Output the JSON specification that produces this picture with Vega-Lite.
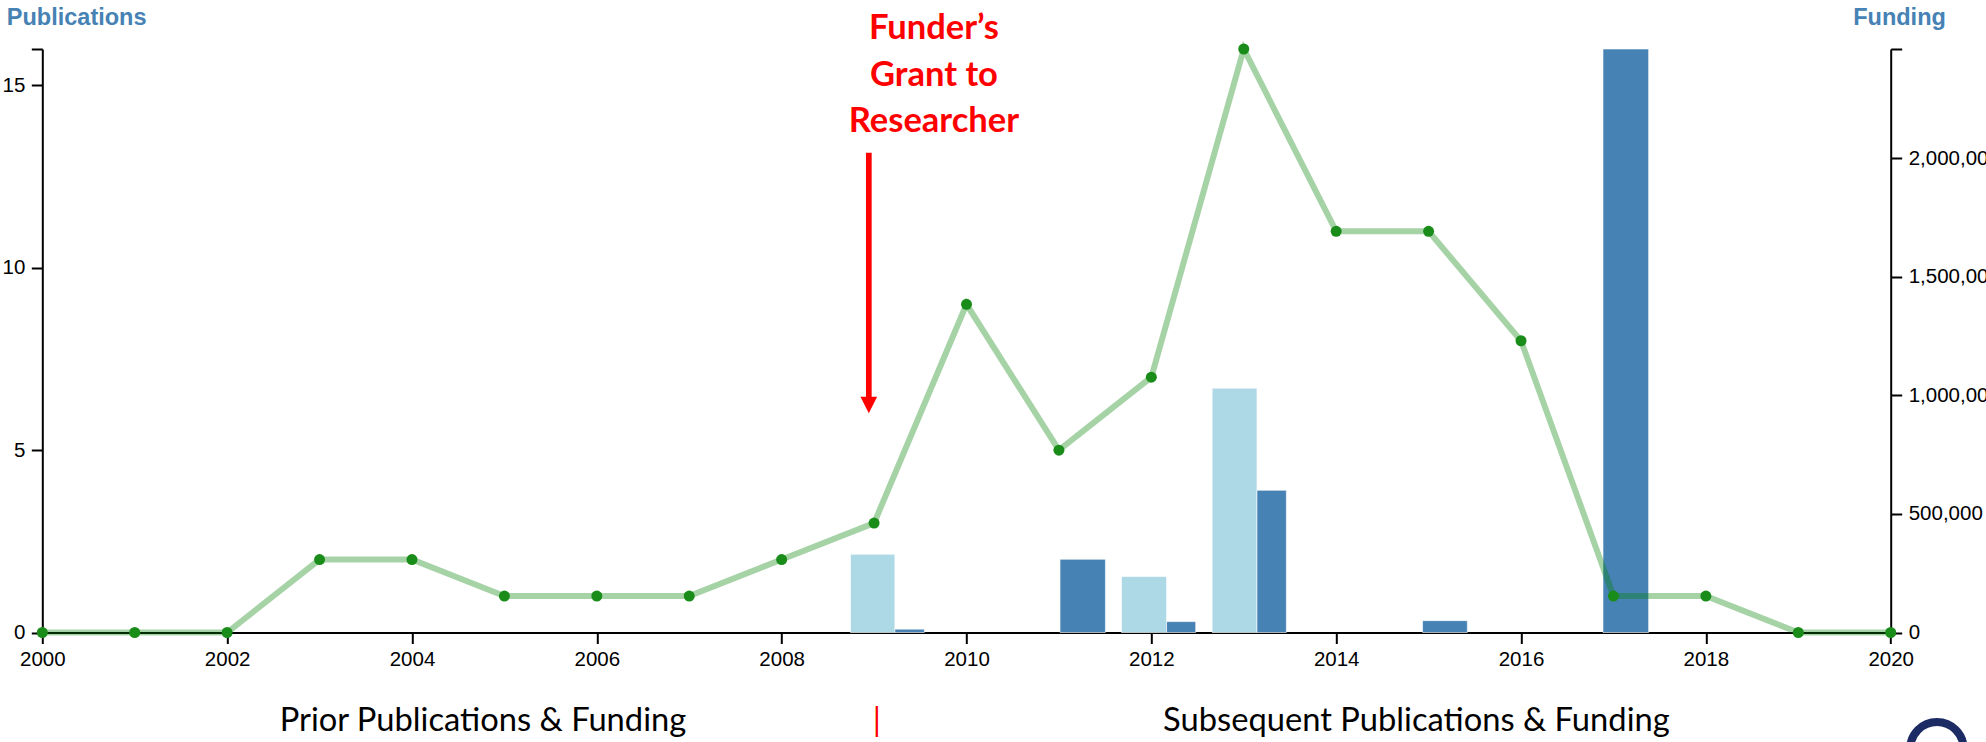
{
  "$schema": "https://vega.github.io/schema/vega-lite/v6.json",
  "width": 1848.4,
  "height": 583.5,
  "autosize": {"type": "none"},
  "padding": {"left": 42.3, "top": 49, "right": 95.3, "bottom": 109.5},
  "background": "white",
  "config": {
    "view": {"stroke": null},
    "axis": {
      "labelFont": "Liberation Sans", "labelFontSize": 20.5, "labelColor": "#000",
      "domainColor": "#000", "tickColor": "#000", "domainWidth": 2, "tickWidth": 2,
      "tickSize": 11, "grid": false, "labelPadding": 6.5,
      "titleFont": "Liberation Sans", "titleFontSize": 23.5, "titleFontWeight": "bold", "titleColor": "#4682b4"
    }
  },
  "datasets": {
    "pubs": [
      {"year": 2000, "publications": 0}, {"year": 2001, "publications": 0}, {"year": 2002, "publications": 0},
      {"year": 2003, "publications": 2}, {"year": 2004, "publications": 2}, {"year": 2005, "publications": 1},
      {"year": 2006, "publications": 1}, {"year": 2007, "publications": 1}, {"year": 2008, "publications": 2},
      {"year": 2009, "publications": 3}, {"year": 2010, "publications": 9}, {"year": 2011, "publications": 5},
      {"year": 2012, "publications": 7}, {"year": 2013, "publications": 16}, {"year": 2014, "publications": 11},
      {"year": 2015, "publications": 11}, {"year": 2016, "publications": 8}, {"year": 2017, "publications": 1},
      {"year": 2018, "publications": 1}, {"year": 2019, "publications": 0}, {"year": 2020, "publications": 0}
    ],
    "funding": [
      {"start": 2008.745, "end": 2009.225, "amount": 330000, "source": "Funder"},
      {"start": 2009.225, "end": 2009.544, "amount": 14000, "source": "Other"},
      {"start": 2011.012, "end": 2011.503, "amount": 309000, "source": "Other"},
      {"start": 2011.677, "end": 2012.165, "amount": 236000, "source": "Funder"},
      {"start": 2012.165, "end": 2012.480, "amount": 46000, "source": "Other"},
      {"start": 2012.658, "end": 2013.143, "amount": 1031000, "source": "Funder"},
      {"start": 2013.143, "end": 2013.461, "amount": 600000, "source": "Other"},
      {"start": 2014.935, "end": 2015.419, "amount": 50000, "source": "Other"},
      {"start": 2016.887, "end": 2017.381, "amount": 2462000, "source": "Other"}
    ],
    "grant": [{"year": 2009.648, "level": 16.27, "label": "Funder’s\nGrant to\nResearcher"}],
    "arrow": [{"year": 2008.943, "from": 13.156, "to": 6.45, "tip": 6.238}],
    "periods": [
      {"year": 2004.768, "level": -2.7, "label": "Prior Publications & Funding"},
      {"year": 2014.868, "level": -2.7, "label": "Subsequent Publications & Funding"}
    ],
    "divider": [{"year": 2009.031, "level": -2.7, "label": "|"}],
    "logo": [{"year": 2020.5, "level": -3.19}]
  },
  "layer": [
    {
      "data": {"name": "funding"},
      "mark": {"type": "bar", "stroke": "#ffffff", "strokeWidth": 0.6},
      "encoding": {
        "x": {"field": "start", "type": "quantitative",
              "scale": {"domain": [2000, 2020], "nice": false, "zero": false},
              "axis": {"values": [2000, 2002, 2004, 2006, 2008, 2010, 2012, 2014, 2016, 2018, 2020], "format": "d", "title": null, "labelFlush": false, "labelPadding": 6}},
        "x2": {"field": "end"},
        "y": {"field": "amount", "type": "quantitative",
              "scale": {"domain": [0, 2462000], "nice": false},
              "axis": {"orient": "right", "title": "Funding", "titleAngle": 0, "titleAlign": "left", "titleBaseline": "alphabetic", "titleX": -38, "titleY": -25,
                       "values": [0, 500000, 1000000, 1500000, 2000000, 2462000],
                       "labelExpr": "datum.value > 2400000 ? '' : format(datum.value, ',d')", "labelFlush": false}},
        "y2": {"datum": 0},
        "color": {"field": "source", "type": "nominal", "scale": {"domain": ["Funder", "Other"], "range": ["#add8e6", "#4682b4"]}, "legend": null}
      }
    },
    {
      "layer": [
        {
          "data": {"name": "pubs"},
          "mark": {"type": "line", "color": "#008000", "strokeWidth": 6, "strokeOpacity": 0.35},
          "encoding": {
            "x": {"field": "year", "type": "quantitative", "scale": {"domain": [2000, 2020], "nice": false, "zero": false}},
            "y": {"field": "publications", "type": "quantitative", "scale": {"domain": [0, 16], "nice": false},
                  "axis": {"orient": "left", "title": "Publications", "titleAngle": 0, "titleAlign": "left", "titleBaseline": "alphabetic", "titleX": -36, "titleY": -25,
                           "values": [0, 5, 10, 15, 16], "labelExpr": "datum.value == 16 ? '' : datum.label", "labelFlush": false}}
          }
        },
        {
          "data": {"name": "pubs"},
          "mark": {"type": "point", "filled": true, "color": "#1a8c1a", "size": 121, "opacity": 1},
          "encoding": {
            "x": {"field": "year", "type": "quantitative", "scale": {"domain": [2000, 2020], "nice": false, "zero": false}},
            "y": {"field": "publications", "type": "quantitative", "scale": {"domain": [0, 16], "nice": false}}
          }
        },
        {
          "data": {"name": "arrow"},
          "mark": {"type": "rule", "color": "#ff0000", "strokeWidth": 5.7},
          "encoding": {
            "x": {"field": "year", "type": "quantitative", "scale": {"domain": [2000, 2020], "nice": false, "zero": false}},
            "y": {"field": "from", "type": "quantitative", "scale": {"domain": [0, 16], "nice": false}},
            "y2": {"field": "to"}
          }
        },
        {
          "data": {"name": "arrow"},
          "mark": {"type": "point", "shape": "M-1,-1L1,-1L0,1Z", "filled": true, "color": "#ff0000", "size": 279, "opacity": 1, "strokeWidth": 0},
          "encoding": {
            "x": {"field": "year", "type": "quantitative", "scale": {"domain": [2000, 2020], "nice": false, "zero": false}},
            "y": {"field": "tip", "type": "quantitative", "scale": {"domain": [0, 16], "nice": false}}
          }
        },
        {
          "data": {"name": "grant"},
          "mark": {"type": "text", "font": "Lato", "fontSize": 34.5, "fontWeight": "bold", "color": "#ff0000", "lineBreak": "\n", "lineHeight": 46.5, "align": "center", "baseline": "alphabetic"},
          "encoding": {
            "x": {"field": "year", "type": "quantitative", "scale": {"domain": [2000, 2020], "nice": false, "zero": false}},
            "y": {"field": "level", "type": "quantitative", "scale": {"domain": [0, 16], "nice": false}},
            "text": {"field": "label"}
          }
        },
        {
          "data": {"name": "periods"},
          "mark": {"type": "text", "font": "Lato", "fontSize": 32.7, "color": "#000000", "align": "center", "baseline": "alphabetic"},
          "encoding": {
            "x": {"field": "year", "type": "quantitative", "scale": {"domain": [2000, 2020], "nice": false, "zero": false}},
            "y": {"field": "level", "type": "quantitative", "scale": {"domain": [0, 16], "nice": false}},
            "text": {"field": "label"}
          }
        },
        {
          "data": {"name": "divider"},
          "mark": {"type": "text", "font": "Lato", "fontSize": 32.7, "color": "#ff0000", "align": "center", "baseline": "alphabetic"},
          "encoding": {
            "x": {"field": "year", "type": "quantitative", "scale": {"domain": [2000, 2020], "nice": false, "zero": false}},
            "y": {"field": "level", "type": "quantitative", "scale": {"domain": [0, 16], "nice": false}},
            "text": {"field": "label"}
          }
        },
        {
          "data": {"name": "logo"},
          "mark": {"type": "point", "shape": "circle", "filled": false, "color": "#1d2b64", "strokeWidth": 8, "size": 2852, "opacity": 1},
          "encoding": {
            "x": {"field": "year", "type": "quantitative", "scale": {"domain": [2000, 2020], "nice": false, "zero": false}},
            "y": {"field": "level", "type": "quantitative", "scale": {"domain": [0, 16], "nice": false}}
          }
        }
      ]
    }
  ],
  "resolve": {"scale": {"y": "independent"}}
}
